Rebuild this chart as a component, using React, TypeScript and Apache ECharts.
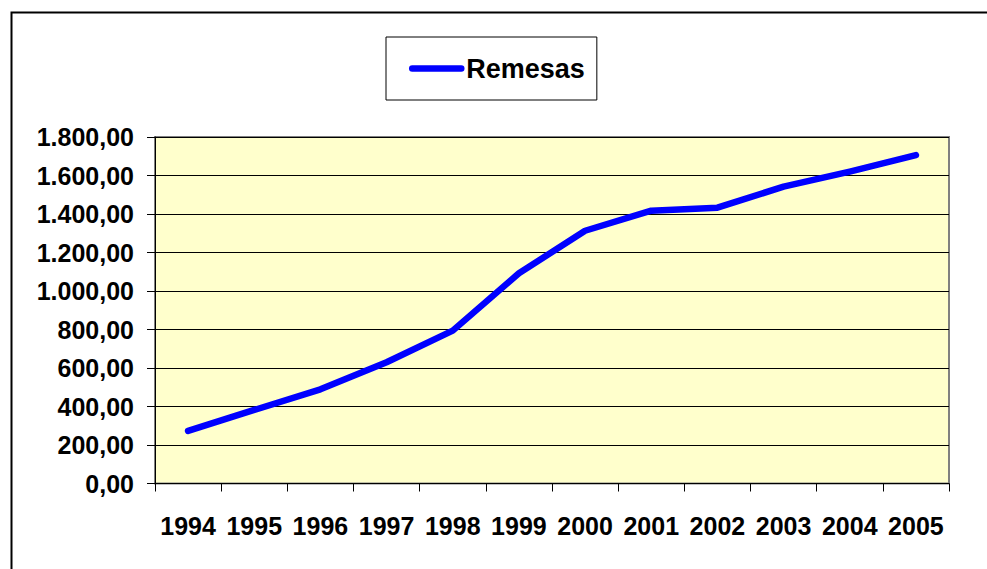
import React, { useEffect, useRef } from "react";
import * as echarts from "echarts";

const years = ["1994", "1995", "1996", "1997", "1998", "1999", "2000", "2001", "2002", "2003", "2004", "2005"];
const remesas = [273, 382, 489, 630, 794, 1092, 1313, 1417, 1433, 1542, 1620, 1706];
const seriesName = "Remesas";

const fmt = (v: number) => {
  const s = Math.round(v).toString().replace(/\B(?=(\d{3})+(?!\d))/g, ".");
  return s + ",00";
};

export default function App() {
  const ref = useRef<HTMLDivElement>(null);
  useEffect(() => {
    document.body.style.margin = "0";
    const chart = echarts.init(ref.current!, null, { renderer: "svg" });
    const font = "'Liberation Sans', Arial, sans-serif";
    chart.setOption({
      animation: false,
      backgroundColor: "#ffffff",
      graphic: [
        {
          type: "rect",
          shape: { x: 11.5, y: 12.5, width: 1000, height: 600 },
          style: { fill: "none", stroke: "#000", lineWidth: 2 },
          silent: true,
          z: -1,
        },
      ],
      legend: {
        left: 386,
        top: 37,
        orient: "horizontal",
        padding: [18, 12, 18, 23],
        borderColor: "#000",
        borderWidth: 1,
        backgroundColor: "#fff",
        itemWidth: 49,
        itemHeight: 6,
        itemGap: 0,
        textStyle: { fontFamily: font, fontWeight: "bold", fontSize: 27, lineHeight: 27, color: "#000" },
        data: [seriesName],
        lineStyle: { width: 6.5, cap: "round" },
      },
      grid: {
        left: 155,
        top: 137,
        right: 38,
        bottom: 85.5,
        show: true,
        backgroundColor: "#FFFFCC",
        borderColor: "#808080",
        borderWidth: 2,
      },
      xAxis: {
        type: "category",
        data: years,
        boundaryGap: true,
        axisLine: { lineStyle: { color: "#000", width: 1 } },
        axisTick: { show: true, length: 8, alignWithLabel: false, lineStyle: { color: "#000" } },
        axisLabel: {
          interval: 0,
          margin: 30,
          color: "#000",
          fontFamily: font,
          fontWeight: "bold",
          fontSize: 25,
        },
        splitLine: { show: false },
      },
      yAxis: {
        type: "value",
        min: 0,
        max: 1800,
        interval: 200,
        axisLine: { show: true, lineStyle: { color: "#000", width: 1 } },
        axisTick: { show: true, length: 8, lineStyle: { color: "#000" } },
        axisLabel: {
          margin: 21,
          color: "#000",
          fontFamily: font,
          fontWeight: "bold",
          fontSize: 25,
          formatter: (v: number) => fmt(v),
        },
        splitLine: { show: true, lineStyle: { color: "#000", width: 1 } },
      },
      series: [
        {
          name: seriesName,
          type: "line",
          data: remesas,
          symbol: "none",
          smooth: false,
          color: "#0000FF",
          lineStyle: { color: "#0000FF", width: 6.5, cap: "round", join: "round" },
        },
      ],
    });
    return () => chart.dispose();
  }, []);
  return <div ref={ref} style={{ position: "absolute", left: 0, top: 0, width: 987, height: 569 }} />;
}
